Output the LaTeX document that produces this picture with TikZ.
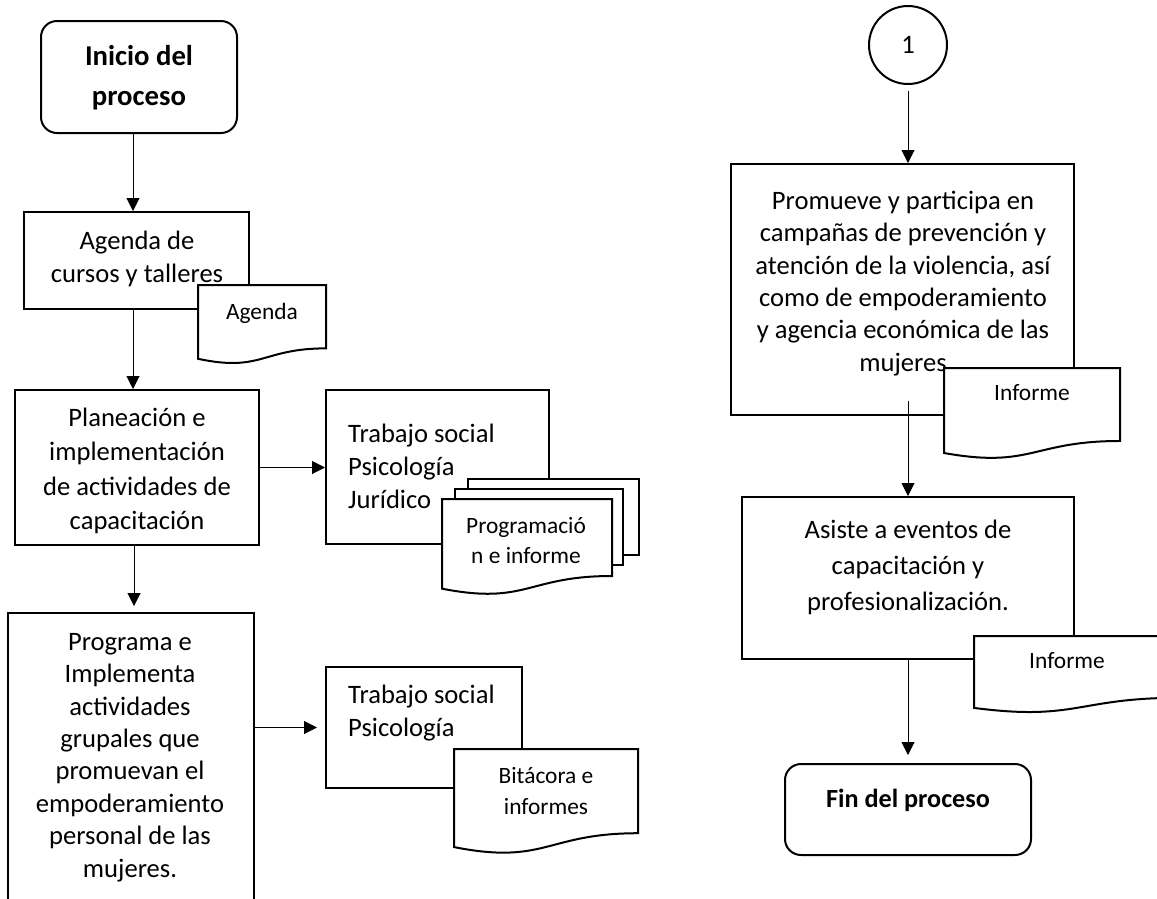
\documentclass[tikz,border=0pt]{standalone}
\usepackage{fontspec}
\setmainfont{Carlito}
\usetikzlibrary{arrows.meta, positioning}
\tikzset{
	block/.style={draw, line width=2pt},
	terminal/.style={draw, line width=2pt, rounded corners=16pt},
	connector/.style={draw, circle, line width=2pt, minimum size=78pt, inner sep=0pt, font=\fontsize{26.6}{33}\selectfont},
	boxtext/.style={inner sep=0pt, anchor=north, align=center, font=\fontsize{26.6}{33}\selectfont},
	doctext/.style={inner sep=0pt, anchor=north, align=center, font=\fontsize{23.4}{30}\selectfont},
	page/.style={fill=white, draw, line width=2pt},
	flow/.style={-{Triangle[length=13pt,width=13pt]}, line width=1pt}
}
% document symbol: left, top, right, height
\newcommand{\docshape}[4]{%
	\filldraw[page] (#1,#2) -- (#3,#2) -- (#3,{#2+0.802*#4})
		.. controls ({(#1+#3)/2},{#2+0.802*#4}) and ({(#1+#3)/2},{#2+1.107*#4}) .. (#1,{#2+0.934*#4}) -- cycle;}

\begin{document}
\begin{tikzpicture}[x=1pt, y=-1pt]
		\useasboundingbox (0,0) rectangle (1157,898);
		
		\node[terminal, minimum width=196pt, minimum height=112pt] (inicio) at (139,77) {};
		\node[boxtext, font=\fontsize{28.7}{40}\selectfont\bfseries] (inicioT) at (139,45) {Inicio del\\proceso};
		
		\node[block, minimum width=225pt, minimum height=97pt] (agenda) at (136.5,260.5) {};
		\node[boxtext] (agendaT) at (137,231) {Agenda de\\cursos y talleres};
		
		\node[block, minimum width=244pt, minimum height=155pt] (plan) at (137,467.5) {};
		\node[boxtext, font=\fontsize{26.6}{34.3}\selectfont] (planT) at (137,408) {Planeación e\\implementación\\de actividades de\\capacitación};
		
		\node[block, minimum width=246pt, minimum height=289pt] (prog) at (131,757.5) {};
		\node[boxtext, font=\fontsize{26.6}{32.4}\selectfont] (progT) at (130,633) {Programa e\\Implementa\\actividades\\grupales que\\promuevan el\\empoderamiento\\personal de las\\mujeres.};
		
		\node[block, minimum width=223pt, minimum height=154pt] (ts1) at (437.5,467) {};
		\node[boxtext, anchor=north west, align=left] (ts1T) at (348,424) {Trabajo social\\Psicología\\Jurídico};
		
		\node[block, minimum width=196pt, minimum height=121pt] (ts2) at (424,727.5) {};
		\node[boxtext, anchor=north west, align=left] (ts2T) at (348,685) {Trabajo social\\Psicología};
		
		\node[connector] (one) at (908,45) {1};
		
		\node[block, minimum width=343pt, minimum height=251pt] (prom) at (902.5,289.5) {};
		\node[boxtext, font=\fontsize{26.6}{32.3}\selectfont] (promT) at (903,191) {Promueve y participa en\\campañas de prevención y\\atención de la violencia, así\\como de empoderamiento\\y agencia económica de las\\mujeres};
		
		\node[block, minimum width=332pt, minimum height=162pt] (asiste) at (908,578) {};
		\node[boxtext, font=\fontsize{26.6}{36}\selectfont] (asisteT) at (908,520) {Asiste a eventos de\\capacitación y\\profesionalización.};
		
		\node[terminal, minimum width=246pt, minimum height=91pt] (fin) at (908,809.5) {};
		\node[boxtext, font=\fontsize{26.2}{32}\selectfont\bfseries] (finT) at (908,789) {Fin del proceso};
		
		% documents
		\docshape{198}{285}{326}{79}
		\node[doctext] (agendaDoc) at (262,303) {Agenda};
		
		\filldraw[page] (468,479) rectangle (639,555);
		\filldraw[page] (455,489) rectangle (623,565);
		\docshape{442}{499}{612}{96}
		\node[doctext] (progDoc) at (526,517) {Programació\\n e informe};
		
		\docshape{454}{749}{638}{105}
		\node[doctext, font=\fontsize{23.4}{31}\selectfont] (bitDoc) at (546,767) {Bitácora e\\informes};
		
		\docshape{944}{368}{1120}{91}
		\node[doctext] (inf1Doc) at (1032,384) {Informe};
		
		\docshape{974}{636}{1180}{77}
		\node[doctext] (inf2Doc) at (1067,652) {Informe};
		
		\draw[flow] ([xshift=-6pt]inicio.south) -- ([xshift=-6pt]inicio.south |- agenda.north);
		\draw[flow] ([xshift=-3.5pt]agenda.south) -- ([xshift=-3.5pt]agenda.south |- plan.north);
		\draw[flow, shorten >=6pt] ([xshift=-3pt]plan.south) -- ([xshift=-3pt]plan.south |- prog.north);
		\draw[flow] (plan.east) -- (plan.east -| ts1.west);
		\draw[flow, shorten >=8pt] (prog.east |- ts2.west) -- (ts2.west);
		\draw[flow, shorten <=6pt] (one.south) -- (one.south |- prom.north);
		\draw[flow] ([yshift=15pt]prom.south -| asiste.north) -- (asiste.north);
		\draw[flow, shorten >=8pt] (asiste.south) -- (fin.north);
	\end{tikzpicture}
\end{document}
